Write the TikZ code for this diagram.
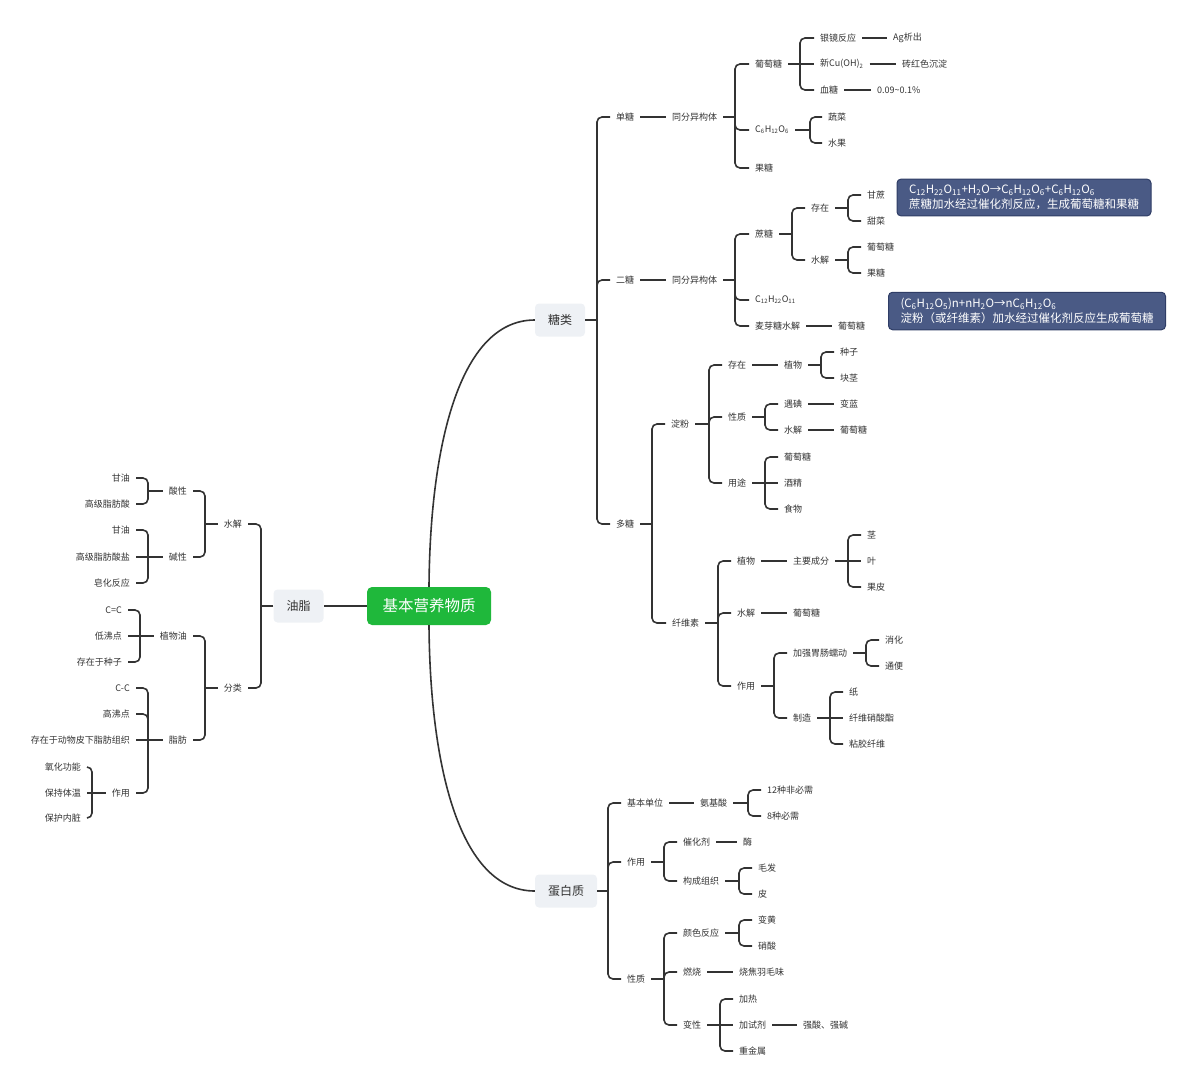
\documentclass[tikz,border=0pt]{standalone}
\usepackage{fontspec}
\setmainfont{Noto Sans CJK SC}
\usetikzlibrary{positioning}
\definecolor{rootgreen}{HTML}{1FB83B}
\definecolor{topicgray}{HTML}{EEF1F5}
\definecolor{notefill}{HTML}{4A5A85}
\definecolor{noteline}{HTML}{2F3D66}
\definecolor{linkgray}{HTML}{333333}

\begin{document}
\begin{tikzpicture}[
            x=1pt, y=-1pt,
            font=\fontsize{9}{11}\selectfont,
            % stili
            rootbox/.style={rectangle, rounded corners=5pt, fill=rootgreen, text=white, minimum width=124pt, minimum height=38pt, font=\fontsize{15.5}{18}\selectfont},
            topic/.style={rectangle, rounded corners=4pt, fill=topicgray, text=linkgray, inner xsep=13pt, minimum height=33pt, font=\fontsize{12}{14}\selectfont},
            leaf/.style={inner xsep=6pt, inner ysep=2pt, text=linkgray, anchor=west},
            leafl/.style={leaf, anchor=east},
            note/.style={rectangle, rounded corners=4pt, draw=noteline, line width=1pt, fill=notefill, text=white, align=left, inner xsep=12pt, inner ysep=6pt, font=\fontsize{11.5}{15}\selectfont},
            link/.style={draw=linkgray, line width=1.6pt, rounded corners=5pt}
        ]
        \useasboundingbox (0,0) rectangle (1192,1088);

        % Centro e rami principali
        \node (jbyy) [rootbox] at (429,606) {基本营养物质};
        \node (tang) [topic] at (560,320) {糖类};
        \node (dbz) [topic] at (566,891) {蛋白质};
        \node (yz) [topic] at (298.5,606) {油脂};

        \draw [link] (jbyy.north) .. controls (430,450) and (458,320) .. (tang.west);
        \draw [link] (jbyy.south) .. controls (430,762) and (458,891) .. (dbz.west);
        \draw [link] (jbyy) -- (yz);

        % Note
        \node (zhu1) [note] at (1024,197.5) {C\textsubscript{12}H\textsubscript{22}O\textsubscript{11}+H\textsubscript{2}O→C\textsubscript{6}H\textsubscript{12}O\textsubscript{6}+C\textsubscript{6}H\textsubscript{12}O\textsubscript{6}\\蔗糖加水经过催化剂反应，生成葡萄糖和果糖};
        \node (zhu2) [note] at (1027,311) {(C\textsubscript{6}H\textsubscript{12}O\textsubscript{5})n+nH\textsubscript{2}O→nC\textsubscript{6}H\textsubscript{12}O\textsubscript{6}\\淀粉（或纤维素）加水经过催化剂反应生成葡萄糖};

        %糖类: nodi
        \node (dant) [leaf] at (610,117) {单糖};
        \node (tyg1) [leaf] at (666,117) {同分异构体};
        \node (ptt1) [leaf] at (749,64) {葡萄糖};
        \node (yjfy) [leaf] at (814,38) {银镜反应};
        \node (agxc) [leaf] at (887,38) {Ag析出};
        \node (xcu) [leaf] at (814,64) {新Cu(OH)\textsubscript{2}};
        \node (zhs) [leaf] at (896,64) {砖红色沉淀};
        \node (xuet) [leaf] at (814,90) {血糖};
        \node (nongd) [leaf] at (871,90) {0.09\textasciitilde0.1\%};
        \node (c6) [leaf] at (749,130) {C\textsubscript{6}H\textsubscript{12}O\textsubscript{6}};
        \node (shuc) [leaf] at (822,117) {蔬菜};
        \node (shuig) [leaf] at (822,143) {水果};
        \node (guot1) [leaf] at (749,168) {果糖};

        \node (ert) [leaf] at (610,280) {二糖};
        \node (tyg2) [leaf] at (666,280) {同分异构体};
        \node (zhet) [leaf] at (749,234) {蔗糖};
        \node (cunz1) [leaf] at (805,208) {存在};
        \node (ganz) [leaf] at (861,195) {甘蔗};
        \node (tianc) [leaf] at (861,221) {甜菜};
        \node (shuij1) [leaf] at (805,260) {水解};
        \node (ptt2) [leaf] at (861,247) {葡萄糖};
        \node (guot2) [leaf] at (861,273) {果糖};
        \node (c12) [leaf] at (749,300) {C\textsubscript{12}H\textsubscript{22}O\textsubscript{11}};
        \node (myt) [leaf] at (749,326) {麦芽糖水解};
        \node (ptt3) [leaf] at (832,326) {葡萄糖};

        \node (duot) [leaf] at (610,524) {多糖};
        \node (dianf) [leaf] at (665,424) {淀粉};
        \node (cunz2) [leaf] at (722,365) {存在};
        \node (zhiw1) [leaf] at (778,365) {植物};
        \node (zhongz) [leaf] at (834,352) {种子};
        \node (kuaij) [leaf] at (834,378) {块茎};
        \node (xingz1) [leaf] at (722,417) {性质};
        \node (yudian) [leaf] at (778,404) {遇碘};
        \node (bianl) [leaf] at (834,404) {变蓝};
        \node (shuij2) [leaf] at (778,430) {水解};
        \node (ptt4) [leaf] at (834,430) {葡萄糖};
        \node (yongt) [leaf] at (722,483) {用途};
        \node (ptt5) [leaf] at (778,457) {葡萄糖};
        \node (jiuj) [leaf] at (778,483) {酒精};
        \node (shiw) [leaf] at (778,509) {食物};

        \node (xianws) [leaf] at (666,623) {纤维素};
        \node (zhiw2) [leaf] at (731,561) {植物};
        \node (zycf) [leaf] at (787,561) {主要成分};
        \node (jing) [leaf] at (861,535) {茎};
        \node (ye) [leaf] at (861,561) {叶};
        \node (guop) [leaf] at (861,587) {果皮};
        \node (shuij3) [leaf] at (731,613) {水解};
        \node (ptt6) [leaf] at (787,613) {葡萄糖};
        \node (zuoy1) [leaf] at (731,686) {作用};
        \node (jqwc) [leaf] at (787,653) {加强胃肠蠕动};
        \node (xiaoh) [leaf] at (879,640) {消化};
        \node (tongb) [leaf] at (879,666) {通便};
        \node (zhiz) [leaf] at (787,718) {制造};
        \node (zhi) [leaf] at (843,692) {纸};
        \node (xwxsz) [leaf] at (843,718) {纤维硝酸酯};
        \node (njxw) [leaf] at (843,744) {粘胶纤维};

        %糖类: collegamenti
        \coordinate (tang-b) at (597,320);
        \draw [link] (tang) -- (tang-b);
        \draw [link] (tang-b) |- (dant);
        \draw [link] (tang-b) |- (ert);
        \draw [link] (tang-b) |- (duot);

        \draw [link] (dant) -- (tyg1);
        \coordinate (tyg1-b) at (735,117);
        \draw [link] (tyg1) -- (tyg1-b);
        \draw [link] (tyg1-b) |- (ptt1);
        \draw [link] (tyg1-b) |- (c6);
        \draw [link] (tyg1-b) |- (guot1);
        \coordinate (ptt1-b) at (800,64);
        \draw [link] (ptt1) -- (ptt1-b);
        \draw [link] (ptt1-b) |- (yjfy);
        \draw [link] (ptt1-b) -- (xcu);
        \draw [link] (ptt1-b) |- (xuet);
        \draw [link] (yjfy) -- (agxc);
        \draw [link] (xcu) -- (zhs);
        \draw [link] (xuet) -- (nongd);
        \coordinate (c6-b) at (810,130);
        \draw [link] (c6) -- (c6-b);
        \draw [link] (c6-b) |- (shuc);
        \draw [link] (c6-b) |- (shuig);

        \draw [link] (ert) -- (tyg2);
        \coordinate (tyg2-b) at (735,280);
        \draw [link] (tyg2) -- (tyg2-b);
        \draw [link] (tyg2-b) |- (zhet);
        \draw [link] (tyg2-b) |- (c12);
        \draw [link] (tyg2-b) |- (myt);
        \coordinate (zhet-b) at (792,234);
        \draw [link] (zhet) -- (zhet-b);
        \draw [link] (zhet-b) |- (cunz1);
        \draw [link] (zhet-b) |- (shuij1);
        \coordinate (cunz1-b) at (848,208);
        \draw [link] (cunz1) -- (cunz1-b);
        \draw [link] (cunz1-b) |- (ganz);
        \draw [link] (cunz1-b) |- (tianc);
        \coordinate (shuij1-b) at (848,260);
        \draw [link] (shuij1) -- (shuij1-b);
        \draw [link] (shuij1-b) |- (ptt2);
        \draw [link] (shuij1-b) |- (guot2);
        \draw [link] (myt) -- (ptt3);

        \coordinate (duot-b) at (652,524);
        \draw [link] (duot) -- (duot-b);
        \draw [link] (duot-b) |- (dianf);
        \draw [link] (duot-b) |- (xianws);
        \coordinate (dianf-b) at (709,424);
        \draw [link] (dianf) -- (dianf-b);
        \draw [link] (dianf-b) |- (cunz2);
        \draw [link] (dianf-b) |- (xingz1);
        \draw [link] (dianf-b) |- (yongt);
        \draw [link] (cunz2) -- (zhiw1);
        \coordinate (zhiw1-b) at (821,365);
        \draw [link] (zhiw1) -- (zhiw1-b);
        \draw [link] (zhiw1-b) |- (zhongz);
        \draw [link] (zhiw1-b) |- (kuaij);
        \coordinate (xingz1-b) at (765,417);
        \draw [link] (xingz1) -- (xingz1-b);
        \draw [link] (xingz1-b) |- (yudian);
        \draw [link] (xingz1-b) |- (shuij2);
        \draw [link] (yudian) -- (bianl);
        \draw [link] (shuij2) -- (ptt4);
        \coordinate (yongt-b) at (765,483);
        \draw [link] (yongt) -- (yongt-b);
        \draw [link] (yongt-b) |- (ptt5);
        \draw [link] (yongt-b) -- (jiuj);
        \draw [link] (yongt-b) |- (shiw);

        \coordinate (xianws-b) at (718,623);
        \draw [link] (xianws) -- (xianws-b);
        \draw [link] (xianws-b) |- (zhiw2);
        \draw [link] (xianws-b) |- (shuij3);
        \draw [link] (xianws-b) |- (zuoy1);
        \draw [link] (zhiw2) -- (zycf);
        \coordinate (zycf-b) at (848,561);
        \draw [link] (zycf) -- (zycf-b);
        \draw [link] (zycf-b) |- (jing);
        \draw [link] (zycf-b) -- (ye);
        \draw [link] (zycf-b) |- (guop);
        \draw [link] (shuij3) -- (ptt6);
        \coordinate (zuoy1-b) at (774,686);
        \draw [link] (zuoy1) -- (zuoy1-b);
        \draw [link] (zuoy1-b) |- (jqwc);
        \draw [link] (zuoy1-b) |- (zhiz);
        \coordinate (jqwc-b) at (866,653);
        \draw [link] (jqwc) -- (jqwc-b);
        \draw [link] (jqwc-b) |- (xiaoh);
        \draw [link] (jqwc-b) |- (tongb);
        \coordinate (zhiz-b) at (830,718);
        \draw [link] (zhiz) -- (zhiz-b);
        \draw [link] (zhiz-b) |- (zhi);
        \draw [link] (zhiz-b) -- (xwxsz);
        \draw [link] (zhiz-b) |- (njxw);

        % 蛋白质: nodi
        \node (jbdw) [leaf] at (621,803) {基本单位};
        \node (ajs) [leaf] at (694,803) {氨基酸};
        \node (fbx) [leaf] at (761,790) {12种非必需};
        \node (bzbx) [leaf] at (761,816) {8种必需};
        \node (zuoy2) [leaf] at (621,862) {作用};
        \node (chj) [leaf] at (677,842) {催化剂};
        \node (mei) [leaf] at (737,842) {酶};
        \node (gczz) [leaf] at (677,881) {构成组织};
        \node (maof) [leaf] at (752,868) {毛发};
        \node (pi) [leaf] at (752,894) {皮};
        \node (xingz2) [leaf] at (621,979) {性质};
        \node (ysfy) [leaf] at (677,933) {颜色反应};
        \node (bianh) [leaf] at (752,920) {变黄};
        \node (xiaos) [leaf] at (752,946) {硝酸};
        \node (ranst) [leaf] at (677,972) {燃烧};
        \node (sjym) [leaf] at (733,972) {烧焦羽毛味};
        \node (bianx) [leaf] at (677,1025) {变性};
        \node (jiar) [leaf] at (733,999) {加热};
        \node (jsj) [leaf] at (733,1025) {加试剂};
        \node (qsqj) [leaf] at (797,1025) {强酸、强碱};
        \node (zjs) [leaf] at (733,1051) {重金属};

        % 蛋白质: collegamenti
        \coordinate (dbz-b) at (608,891);
        \draw [link] (dbz) -- (dbz-b);
        \draw [link] (dbz-b) |- (jbdw);
        \draw [link] (dbz-b) |- (zuoy2);
        \draw [link] (dbz-b) |- (xingz2);
        \draw [link] (jbdw) -- (ajs);
        \coordinate (ajs-b) at (748,803);
        \draw [link] (ajs) -- (ajs-b);
        \draw [link] (ajs-b) |- (fbx);
        \draw [link] (ajs-b) |- (bzbx);
        \coordinate (zuoy2-b) at (664,862);
        \draw [link] (zuoy2) -- (zuoy2-b);
        \draw [link] (zuoy2-b) |- (chj);
        \draw [link] (zuoy2-b) |- (gczz);
        \draw [link] (chj) -- (mei);
        \coordinate (gczz-b) at (739,881);
        \draw [link] (gczz) -- (gczz-b);
        \draw [link] (gczz-b) |- (maof);
        \draw [link] (gczz-b) |- (pi);
        \coordinate (xingz2-b) at (664,979);
        \draw [link] (xingz2) -- (xingz2-b);
        \draw [link] (xingz2-b) |- (ysfy);
        \draw [link] (xingz2-b) |- (ranst);
        \draw [link] (xingz2-b) |- (bianx);
        \coordinate (ysfy-b) at (739,933);
        \draw [link] (ysfy) -- (ysfy-b);
        \draw [link] (ysfy-b) |- (bianh);
        \draw [link] (ysfy-b) |- (xiaos);
        \draw [link] (ranst) -- (sjym);
        \coordinate (bianx-b) at (720,1025);
        \draw [link] (bianx) -- (bianx-b);
        \draw [link] (bianx-b) |- (jiar);
        \draw [link] (bianx-b) -- (jsj);
        \draw [link] (bianx-b) |- (zjs);
        \draw [link] (jsj) -- (qsqj);

        % 油脂: nodi (a sinistra)
        \node (shuij4) [leafl] at (248,524) {水解};
        \node (suanx) [leafl] at (193,491) {酸性};
        \node (ganyou1) [leafl] at (136,478) {甘油};
        \node (gjzfs) [leafl] at (136,504) {高级脂肪酸};
        \node (jianx) [leafl] at (193,557) {碱性};
        \node (ganyou2) [leafl] at (136,530) {甘油};
        \node (gjzfsy) [leafl] at (136,557) {高级脂肪酸盐};
        \node (zaohfy) [leafl] at (136,583) {皂化反应};
        \node (fenl) [leafl] at (248,688) {分类};
        \node (zwy) [leafl] at (193,636) {植物油};
        \node (cc2) [leafl] at (128,610) {C=C};
        \node (dfd) [leafl] at (128,636) {低沸点};
        \node (czzz) [leafl] at (128,662) {存在于种子};
        \node (zhif) [leafl] at (193,740) {脂肪};
        \node (cc1) [leafl] at (136,688) {C-C};
        \node (gfd) [leafl] at (136,714) {高沸点};
        \node (czdw) [leafl] at (136,740) {存在于动物皮下脂肪组织};
        \node (zuoy3) [leafl] at (136,793) {作用};
        \node (yhgn) [leafl] at (87,767) {氧化功能};
        \node (bctw) [leafl] at (87,793) {保持体温};
        \node (bhnz) [leafl] at (87,818) {保护内脏};

        % 油脂: collegamenti
        \coordinate (yz-b) at (261,606);
        \draw [link] (yz) -- (yz-b);
        \draw [link] (yz-b) |- (shuij4);
        \draw [link] (yz-b) |- (fenl);
        \coordinate (shuij4-b) at (205,524);
        \draw [link] (shuij4) -- (shuij4-b);
        \draw [link] (shuij4-b) |- (suanx);
        \draw [link] (shuij4-b) |- (jianx);
        \coordinate (suanx-b) at (148,491);
        \draw [link] (suanx) -- (suanx-b);
        \draw [link] (suanx-b) |- (ganyou1);
        \draw [link] (suanx-b) |- (gjzfs);
        \coordinate (jianx-b) at (148,557);
        \draw [link] (jianx) -- (jianx-b);
        \draw [link] (jianx-b) |- (ganyou2);
        \draw [link] (jianx-b) -- (gjzfsy);
        \draw [link] (jianx-b) |- (zaohfy);
        \coordinate (fenl-b) at (205,688);
        \draw [link] (fenl) -- (fenl-b);
        \draw [link] (fenl-b) |- (zwy);
        \draw [link] (fenl-b) |- (zhif);
        \coordinate (zwy-b) at (140,636);
        \draw [link] (zwy) -- (zwy-b);
        \draw [link] (zwy-b) |- (cc2);
        \draw [link] (zwy-b) -- (dfd);
        \draw [link] (zwy-b) |- (czzz);
        \coordinate (zhif-b) at (148,740);
        \draw [link] (zhif) -- (zhif-b);
        \draw [link] (zhif-b) |- (cc1);
        \draw [link] (zhif-b) |- (gfd);
        \draw [link] (zhif-b) -- (czdw);
        \draw [link] (zhif-b) |- (zuoy3);
        \coordinate (zuoy3-b) at (92,793);
        \draw [link] (zuoy3) -- (zuoy3-b);
        \draw [link] (zuoy3-b) |- (yhgn);
        \draw [link] (zuoy3-b) -- (bctw);
        \draw [link] (zuoy3-b) |- (bhnz);

    \end{tikzpicture}
\end{document}
